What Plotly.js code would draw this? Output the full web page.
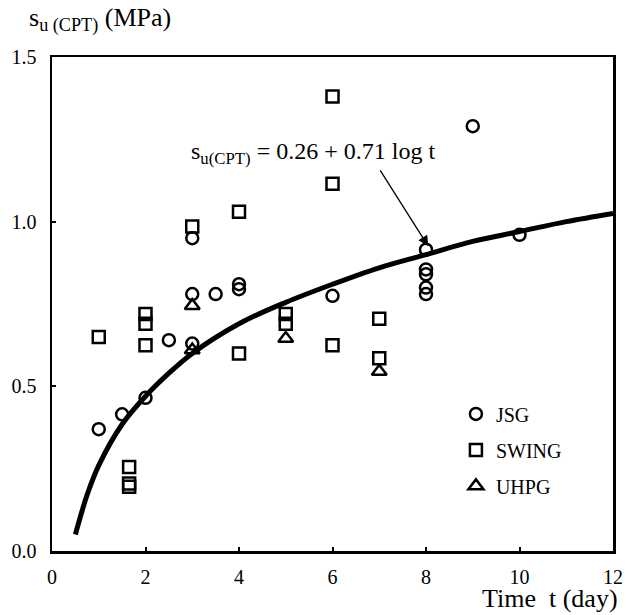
<!DOCTYPE html>
<html>
<head>
<meta charset="utf-8">
<script src="https://cdn.plot.ly/plotly-3.0.1.min.js"></script>
<style>html,body{margin:0;padding:0;background:#fff;}#chart{width:634px;height:615px;}</style>
</head>
<body>
<div id="chart"></div>
<script>
// ---- data ----
const jsgT  = [1, 1.5, 2, 2.5, 3, 3, 3, 3.5, 4, 4, 6, 8, 8, 8, 8, 8, 9, 10];
const jsgSu = [0.37, 0.415, 0.465, 0.64, 0.63, 0.78, 0.95, 0.78, 0.81, 0.795, 0.775, 0.915, 0.855, 0.84, 0.80, 0.78, 1.29, 0.96];

const swingT  = [1, 1.65, 1.65, 1.65, 2, 2, 2, 3, 4, 4, 5, 5, 6, 6, 6, 7, 7];
const swingSu = [0.65, 0.255, 0.205, 0.195, 0.72, 0.69, 0.625, 0.985, 1.03, 0.60, 0.72, 0.69, 1.38, 1.115, 0.625, 0.705, 0.585];

const uhpgT  = [3, 3, 5, 7];
const uhpgSu = [0.745, 0.61, 0.645, 0.545];

// fitted curve su = 0.26 + 0.71 log t
const fitT  = [0.5, 0.75, 1, 1.5, 2, 2.5, 3, 4, 5, 6, 7, 8, 9, 10, 11, 12];
const fitSu = [0.05, 0.17, 0.26, 0.385, 0.47, 0.54, 0.60, 0.69, 0.755, 0.81, 0.86, 0.90, 0.94, 0.97, 1.00, 1.025];

const xTicks = [0, 2, 4, 6, 8, 10, 12];
const yTicks = [0, 0.5, 1.0, 1.5];
const yTickText = ['0.0', '0.5', '1.0', '1.5'];

const serif = '"Liberation Serif", "Times New Roman", serif';

const traces = [
  {x: fitT, y: fitSu, type: 'scatter', mode: 'lines', line: {color: '#000', width: 5, shape: 'spline'},
   showlegend: false, hoverinfo: 'skip'},
  {x: jsgT, y: jsgSu, type: 'scatter', mode: 'markers', name: 'JSG', legendgroup: 'a',
   marker: {symbol: 'circle-open', size: 12, color: '#000', line: {color: '#000', width: 2.5}}},
  {x: swingT, y: swingSu, type: 'scatter', mode: 'markers', name: 'SWING', legendgroup: 'b',
   marker: {symbol: 'square-open', size: 12, color: '#000', line: {color: '#000', width: 2.5}}},
  {x: uhpgT, y: uhpgSu, type: 'scatter', mode: 'markers', name: 'UHPG', legendgroup: 'c',
   marker: {symbol: 'triangle-up-open', size: 13, color: '#000', line: {color: '#000', width: 2.5}}}
];

const layout = {
  width: 634, height: 615,
  margin: {l: 52, r: 21, t: 57, b: 64},
  paper_bgcolor: '#fff', plot_bgcolor: '#fff',
  font: {family: serif, color: '#000', size: 19},
  showlegend: true,
  legend: {x: 0.72, y: 0.317, xanchor: 'left', yanchor: 'top', bgcolor: 'rgba(0,0,0,0)',
           font: {family: serif, size: 20, color: '#000'}, traceorder: 'grouped', tracegroupgap: 7,
           itemwidth: 30},
  xaxis: {range: [0, 12], tickvals: xTicks, ticks: 'inside', ticklen: 4, tickwidth: 2, tickcolor: '#000',
          showline: true, linewidth: 2.5, linecolor: '#000', mirror: true, showgrid: false, zeroline: false,
          ticklabelstandoff: 6, tickfont: {family: serif, size: 20, color: '#000'}},
  yaxis: {range: [0, 1.5], tickvals: yTicks, ticktext: yTickText, ticks: 'inside', ticklen: 4, tickwidth: 2, tickcolor: '#000',
          showline: true, linewidth: 2.5, linecolor: '#000', mirror: true, showgrid: false, zeroline: false,
          ticklabelstandoff: 9, tickfont: {family: serif, size: 20, color: '#000'}},
  annotations: [
    {xref: 'x', yref: 'y', x: 8.24, y: 1.21, xanchor: 'right', yanchor: 'middle', showarrow: false,
     text: 's<sub>u(CPT)</sub> = 0.26 + 0.71 log t', font: {family: serif, size: 24, color: '#000'}},
    {xref: 'x', yref: 'y', x: 8.05, y: 0.925, axref: 'x', ayref: 'y', ax: 7.0, ay: 1.16,
     text: '', showarrow: true, arrowhead: 2, arrowsize: 1.6, arrowwidth: 1.3, arrowcolor: '#000', standoff: 0},
    {xref: 'paper', yref: 'paper', x: -0.045, y: 1.075, xanchor: 'left', yanchor: 'middle', showarrow: false,
     text: 's<sub>u (CPT)</sub> (MPa)', font: {family: serif, size: 26, color: '#000'}},
    {xref: 'paper', yref: 'paper', x: 1.0125, y: -0.097, xanchor: 'right', yanchor: 'middle', showarrow: false,
     text: 'Time  t (day)', font: {family: serif, size: 26, color: '#000'}}
  ]
};

Plotly.newPlot('chart', traces, layout, {displayModeBar: false, staticPlot: true});
</script>
</body>
</html>
